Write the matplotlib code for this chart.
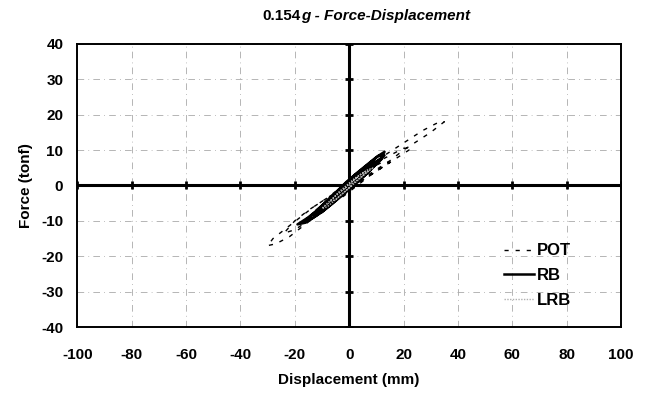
import matplotlib.pyplot as plt

plt.rcParams['font.family'] = ['Liberation Sans', 'DejaVu Sans']
plt.rcParams['axes.unicode_minus'] = False

#Data (mm, tonf)
pot_x = [0, 5, 10, 15, 20, 25, 30, 35, 32, 27, 22, 17, 12, 7, 2, -3, -8, -13, -18, -23, -28, -30,
         -27, -22, -17, -12, -7, -2, 3, 8, 13, 18, 23, 20, 15, 10, 5, 0, -5, -10, -15, -20, -24,
         -20, -15, -10, -5, 0, 5, 10, 15, 12, 7, 2, -3, -8, -12, -8, -3, 2, 6]
pot_y = [0, 2, 4.5, 7, 10, 12.5, 15, 18, 17.5, 15.5, 13, 10.5, 8, 5, 2, -0.5, -3.5, -6, -9, -12, -15, -17,
         -16.5, -14.5, -11.5, -8.5, -5.5, -3, 0, 3, 5.5, 8, 10.5, 10.5, 8.5, 6.5, 4, 1, -2, -4.5, -7, -10, -13.5,
         -12.5, -10, -7, -4, -1.5, 1.5, 4, 6.5, 6.5, 4.5, 2, -1, -4, -7.5, -6, -3, 0, 2.5]

rb_x = [0, 4, 8, 12, 13, 10, 6, 2, -2, -6, -10, -14, -17, -14, -10, -6, -2, 2, 6, 10, 12, 9, 5, 1,
        -3, -7, -11, -15, -19, -16, -12, -8, -4, 0, 4, 8, 11, 13, 11, 7, 3, -1, -5, -9, -12, -9, -5,
        -1, 3, 7, 10, 8, 4, 0, -4, -7, -4, 0, 4, 7, 9, 6, 2, -2, -6, -10, -13, -10, -6, -2, 2, 6]
rb_y = [0, 2, 5, 8, 9.5, 8, 5.5, 3, 0, -3, -6, -8.5, -10.5, -9.5, -7.5, -5, -2.5, 0.5, 3, 6, 7.5, 6.5, 4.5, 2,
        -1, -3.5, -6.5, -9, -11, -10.5, -8.5, -6, -3.5, -1, 1.5, 4.5, 7, 8.5, 8.5, 6, 3.5, 1, -2, -5, -7, -6.5, -4,
        -1.5, 1.5, 4, 6.5, 6, 3.5, 1, -2, -4.5, -3, -0.5, 2, 4.5, 6, 5, 2.5, -0.5, -3.5, -6, -8.5, -7.5, -5, -2, 1, 3.5]

lrb_x = [0, 3, 6, 9, 7, 4, 1, -2, -5, -8, -10, -8, -5, -2, 1, 4, 7, 5, 2, -1, -4, -7, -5, -2, 1]
lrb_y = [0, 1.5, 3.5, 5, 4.5, 3, 1, -1, -3, -5, -6.5, -6, -4, -2, 0, 2, 4, 3.5, 2, 0, -2, -4.5, -4, -2, 0]

xticks = [-100, -80, -60, -40, -20, 0, 20, 40, 60, 80, 100]
yticks = [-40, -30, -20, -10, 0, 10, 20, 30, 40]

fig = plt.figure(figsize=(6.49, 3.95), dpi=100)
ax = fig.add_axes([0.119, 0.172, 0.838, 0.717])

ax.set_xlim(-100, 100)
ax.set_ylim(-40, 40)
ax.set_xticks(xticks)
ax.set_yticks(yticks)
ax.grid(True, color='#aaaaaa', lw=0.6, linestyle=(0, (8, 5, 1, 5)))
ax.tick_params(axis='x', length=0, pad=15, labelsize=11)
ax.tick_params(axis='y', length=0, pad=10, labelsize=11)
for lab in ax.get_xticklabels() + ax.get_yticklabels():
    lab.set_fontweight('bold')
for s in ax.spines.values():
    s.set_linewidth(1.4)

#zero axes with small tick marks
ax.axhline(0, color='black', lw=2.2, zorder=3)
ax.axvline(0, color='black', lw=2.2, zorder=3)
ax.plot(xticks, [0] * len(xticks), ls='none', marker='|', ms=6, mew=2, color='black', zorder=3)
ax.plot([0] * len(yticks), yticks, ls='none', marker='_', ms=6, mew=2, color='black', zorder=3)

ax.plot(pot_x, pot_y, color='black', lw=1.0, ls=(0, (3, 5)), label='POT', zorder=4)
ax.plot(rb_x, rb_y, color='black', lw=1.8, label='RB', zorder=5)
ax.plot(lrb_x, lrb_y, color='#b0b0b0', lw=1.0, ls=(0, (1, 1)), label='LRB', zorder=6)

ax.legend(loc='lower left', bbox_to_anchor=(0.784, 0.068), frameon=False, handlelength=1.8,
          handletextpad=0.2, borderpad=0, borderaxespad=0,
          prop={'weight': 'bold', 'size': 12}, labelspacing=0.58)

ax.set_xlabel('Displacement (mm)', fontweight='bold', fontsize=11, labelpad=8)
ax.set_ylabel('Force (tonf)', fontweight='bold', fontsize=11, labelpad=6)

t = fig.text(0.405, 0.95, '0.154', fontweight='bold', fontsize=11, ha='left', va='baseline')
ax.annotate('g - Force-Displacement', xy=(1, 0), xycoords=t, va='bottom', ha='left',
            fontweight='bold', fontstyle='italic', fontsize=11)

plt.savefig('out.png', dpi=100)
